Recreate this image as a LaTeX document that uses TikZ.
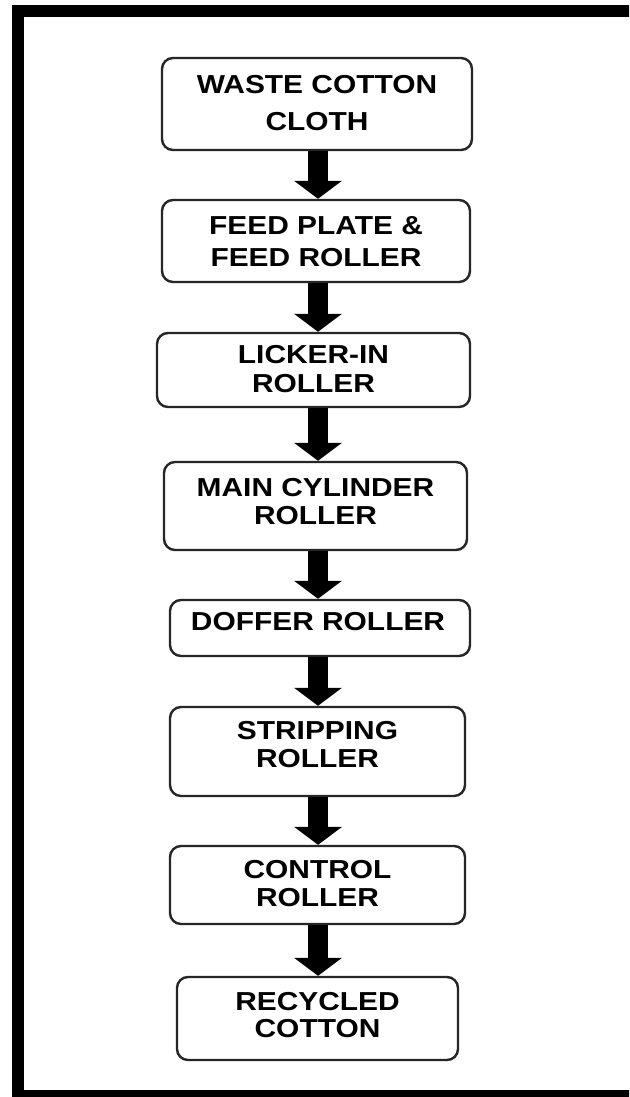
\documentclass[tikz,border=0pt]{standalone}
\usepackage{fontspec}
\setmainfont{Liberation Sans}[FakeStretch=1.15]
\usetikzlibrary{arrows.meta}
\tikzset{
  box/.style={draw=black!85, line width=2.4pt, rounded corners=11pt, fill=white, inner sep=0pt},
  lbl/.style={inner sep=0pt, anchor=base, align=center},
  flow/.style={line width=20pt, -{Triangle[width=48pt,length=18pt,line width=0pt]}},
  frame/.style={line width=12pt, draw=black}
}
\begin{document}
\begin{tikzpicture}[x=1pt,y=-1pt]
\useasboundingbox (0,0) rectangle (629,1097);
\clip (0,0) rectangle (629,1097);
\fill[white] (0,0) rectangle (629,1097);
\draw[frame] (18,11.5) rectangle (700,1096);
\coordinate (ax) at (318,0);
% boxes
\node[box, minimum width=310pt, minimum height=92pt] (b1) at (317,104) {};
\node[box, minimum width=308pt, minimum height=82pt] (b2) at (316,241) {};
\node[box, minimum width=313pt, minimum height=74pt] (b3) at (313.5,370) {};
\node[box, minimum width=303pt, minimum height=88pt] (b4) at (315.5,506) {};
\node[box, minimum width=300pt, minimum height=56pt] (b5) at (320,628) {};
\node[box, minimum width=295pt, minimum height=89pt] (b6) at (317.5,751.5) {};
\node[box, minimum width=295pt, minimum height=78pt] (b7) at (317.5,885) {};
\node[box, minimum width=281pt, minimum height=83pt] (b8) at (317.5,1018.5) {};
% labels (anchor = baseline of the last line)
\node[lbl, font=\fontsize{26}{37}\selectfont\bfseries] (t1) at (317,131) {WASTE COTTON\\CLOTH};
\node[lbl, font=\fontsize{26}{32}\selectfont\bfseries] (t2) at (316,266) {FEED PLATE \&\\FEED ROLLER};
\node[lbl, font=\fontsize{26}{29}\selectfont\bfseries] (t3) at (313.5,392) {LICKER-IN\\ROLLER};
\node[lbl, font=\fontsize{26}{28}\selectfont\bfseries] (t4) at (315.5,524) {MAIN CYLINDER\\ROLLER};
\node[lbl, font=\fontsize{26}{28}\selectfont\bfseries] (t5) at (318,630) {DOFFER ROLLER};
\node[lbl, font=\fontsize{26}{28}\selectfont\bfseries] (t6) at (317.5,767) {STRIPPING\\ROLLER};
\node[lbl, font=\fontsize{26}{28}\selectfont\bfseries] (t7) at (317.5,906) {CONTROL\\ROLLER};
\node[lbl, font=\fontsize{26}{27}\selectfont\bfseries] (t8) at (317.5,1037) {RECYCLED\\COTTON};
% arrows
\draw[flow] (b1.south -| ax) -- (b2.north -| ax);
\draw[flow] (b2.south -| ax) -- (b3.north -| ax);
\draw[flow] (b3.south -| ax) -- (b4.north -| ax);
\draw[flow] (b4.south -| ax) -- (b5.north -| ax);
\draw[flow] (b5.south -| ax) -- (b6.north -| ax);
\draw[flow] (b6.south -| ax) -- (b7.north -| ax);
\draw[flow] (b7.south -| ax) -- (b8.north -| ax);
\end{tikzpicture}
\end{document}
